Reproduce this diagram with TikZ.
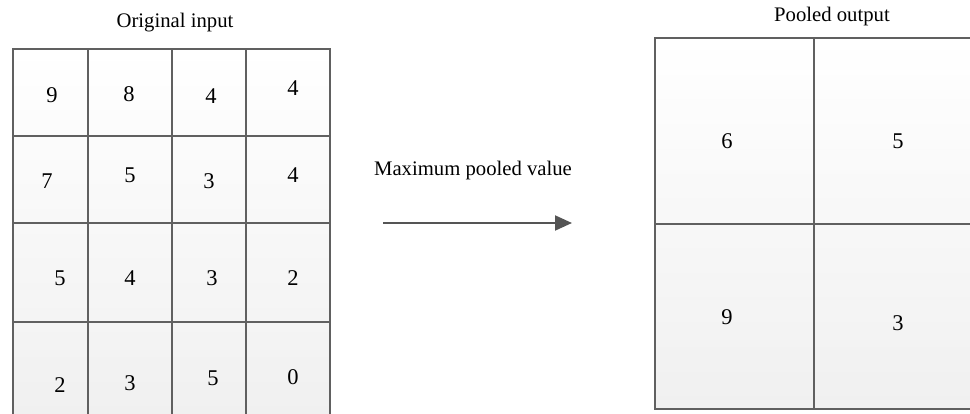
\documentclass[tikz,border=0pt]{standalone}
\usepackage{fontspec}
\setmainfont{Liberation Serif}
\usetikzlibrary{arrows.meta}
\definecolor{gridline}{RGB}{96,96,96}
\definecolor{gridbottom}{RGB}{240,240,240}
\definecolor{arrowgray}{RGB}{85,85,85}
\tikzset{
  panel/.style={top color=white, bottom color=gridbottom, inner sep=0pt, anchor=north west},
  cell/.style={draw=gridline, line width=2.2pt, inner sep=0pt, anchor=north west},
  val/.style={font=\fontsize{22.5}{26}\selectfont, text=black, inner sep=0pt},
  caption/.style={font=\fontsize{20.7}{24}\selectfont, text=black, inner sep=0pt},
  flow/.style={draw=arrowgray, line width=2pt, -{Triangle[length=17pt,width=15pt]}}
}
\begin{document}
\begin{tikzpicture}[x=1pt,y=-1pt]
\useasboundingbox (0,0) rectangle (970,414);
\clip (0,0) rectangle (970,414);

% soft vertical gradient behind each map
\node[panel, minimum width=317pt, minimum height=370pt] (inbg) at (12,48) {};
\node[panel, minimum width=318pt, minimum height=371pt] (outbg) at (654,37) {};

% input feature map, 4 x 4
\foreach \c/\xa/\xb in {1/12/87, 2/87/171, 3/171/245, 4/245/329}{
  \foreach \r/\ya/\yb in {1/48/135, 2/135/222, 3/222/321, 4/321/418}{
    \node[cell, minimum width={(\xb-\xa)*1pt}, minimum height={(\yb-\ya)*1pt}]
      (in\r\c) at (\xa,\ya) {};
  }
}

% pooled map, 2 x 2
\foreach \c/\xa/\xb in {1/654/813, 2/813/972}{
  \foreach \r/\ya/\yb in {1/37/223, 2/223/408}{
    \node[cell, minimum width={(\xb-\xa)*1pt}, minimum height={(\yb-\ya)*1pt}]
      (out\r\c) at (\xa,\ya) {};
  }
}

% input values
\node[val] (v11) at (52,95) {9};
\node[val] (v12) at (129,94) {8};
\node[val] (v13) at (211,96) {4};
\node[val] (v14) at (293,88) {4};
\node[val] (v21) at (47,181) {7};
\node[val] (v22) at (130,175) {5};
\node[val] (v23) at (209,181) {3};
\node[val] (v24) at (293,175) {4};
\node[val] (v31) at (60,278) {5};
\node[val] (v32) at (130,278) {4};
\node[val] (v33) at (212,278) {3};
\node[val] (v34) at (293,278) {2};
\node[val] (v41) at (60,385) {2};
\node[val] (v42) at (130,383) {3};
\node[val] (v43) at (213,378) {5};
\node[val] (v44) at (293,377) {0};

% pooled values
\node[val] (p11) at (727,141) {6};
\node[val] (p12) at (898,141) {5};
\node[val] (p21) at (727,317) {9};
\node[val] (p22) at (898,323) {3};

% captions
\node[caption] (tin) at (175,23) {Original input};
\node[caption] (tout) at (832,17) {Pooled output};
\node[caption] (top) at (473,171) {Maximum pooled value};

% pooling arrow
\coordinate (from) at (383,223);
\coordinate (to) at (572,223);
\draw[flow] (from) -- (to);
\end{tikzpicture}
\end{document}
